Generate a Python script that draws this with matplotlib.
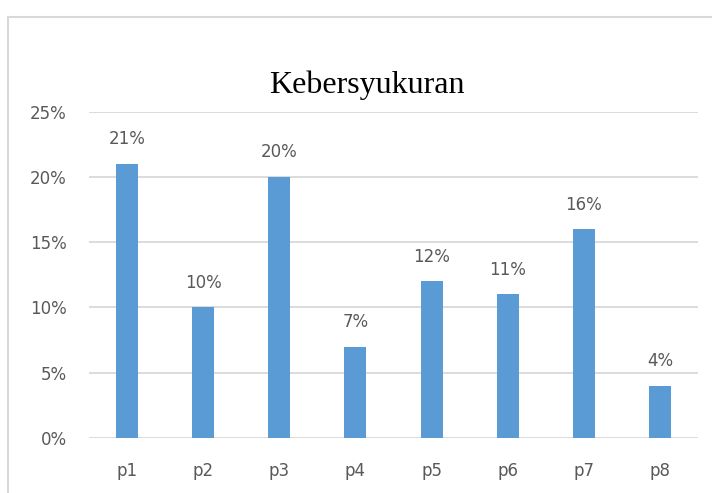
import matplotlib.pyplot as plt
from matplotlib.patches import Rectangle

categories = ['p1', 'p2', 'p3', 'p4', 'p5', 'p6', 'p7', 'p8']
values = [21, 10, 20, 7, 12, 11, 16, 4]   # percent
yticks = [0, 5, 10, 15, 20, 25]

BAR = '#5B9BD5'
GRID = '#D9D9D9'
TXT = '#595959'

fig = plt.figure(figsize=(7.12, 4.93), dpi=100)

# light chart frame (runs off the right and bottom edges)
fig.patches.append(Rectangle((8 / 712, -0.05), 1.0, 1.05 - 17 / 493,
                             transform=fig.transFigure, fill=False,
                             edgecolor='#D9D9D9', linewidth=1.5))

ax = fig.add_axes([89 / 712, 55 / 493, 609 / 712, 326.3 / 493])
x = range(len(categories))
ax.bar(x, values, width=0.29, color=BAR, zorder=3)

for xi, v in zip(x, values):
    ax.text(xi, v + 1.2, '%d%%' % v, ha='center', va='bottom',
            fontsize=12, color=TXT, family='DejaVu Sans')

ax.set_xlim(-0.5, len(categories) - 0.5)
ax.set_ylim(0, 25)
ax.set_yticks(yticks)
ax.set_yticklabels(['%d%%' % t for t in yticks])
ax.set_xticks(list(x))
ax.set_xticklabels(categories)
ax.tick_params(length=0, labelsize=12, labelcolor=TXT)
ax.tick_params(axis='x', pad=17)
ax.tick_params(axis='y', pad=16)
ax.grid(axis='y', color=GRID, linewidth=1.3, zorder=0)
for s in ax.spines.values():
    s.set_visible(False)

fig.text(367 / 712, 1 - 85 / 493, 'Kebersyukuran', ha='center', va='center',
         fontsize=23, family='Liberation Serif', color='black')

fig.savefig('out.png', dpi=100)
